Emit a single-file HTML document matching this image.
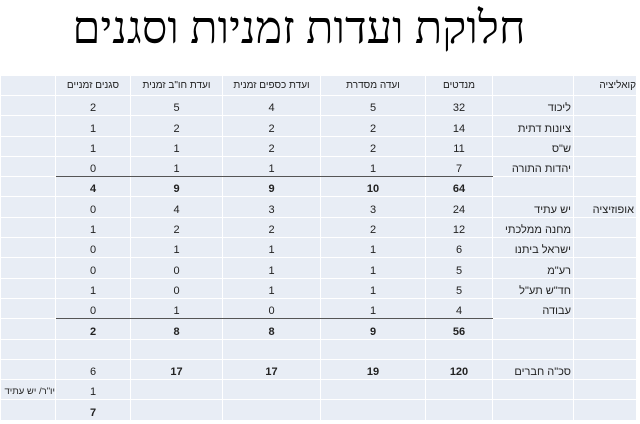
<!DOCTYPE html>
<html><head><meta charset="utf-8"><style>
body{margin:0;width:640px;height:424px;background:#fff;position:relative;overflow:hidden;font-family:"Liberation Sans",Arial,sans-serif}
h1{position:absolute;left:0;top:0;width:598px;margin:0;text-align:center;font-family:"Liberation Serif","Noto Serif CJK SC",serif;font-weight:normal;font-size:45px;line-height:56px;direction:rtl;color:#000}
table{position:absolute;left:0;top:75px;border-collapse:collapse;table-layout:fixed;width:636px;direction:ltr}
td{background:#e8edf5;border:1px solid #fff;height:18.3px;line-height:12px;padding:0 0 1px 0;font-size:11px;color:#222;text-align:center;vertical-align:bottom;direction:rtl;white-space:nowrap}
tr.h td{height:19px;vertical-align:middle;font-size:10px;padding:0}
td.r{text-align:right;padding-right:2px}
td.x{font-size:9.5px;padding-right:0}
tr.b td{font-weight:bold}
tr.u td.l{border-bottom:1.5px solid #555}
</style></head><body>
<h1>חלוקת ועדות זמניות וסגנים</h1>
<table>
<colgroup><col style="width:55px"><col style="width:75px"><col style="width:92px"><col style="width:98px"><col style="width:105px"><col style="width:67px"><col style="width:81px"><col style="width:63px"></colgroup>
<tr class="h"><td></td><td>סגנים זמניים</td><td>ועדת חו"ב זמנית</td><td>ועדת כספים זמנית</td><td>ועדה מסדרת</td><td>מנדטים</td><td></td><td class="r">קואליציה</td></tr>
<tr><td></td><td>2</td><td>5</td><td>4</td><td>5</td><td>32</td><td class="r">ליכוד</td><td></td></tr>
<tr><td></td><td>1</td><td>2</td><td>2</td><td>2</td><td>14</td><td class="r">ציונות דתית</td><td></td></tr>
<tr><td></td><td>1</td><td>1</td><td>2</td><td>2</td><td>11</td><td class="r">ש"ס</td><td></td></tr>
<tr class="u"><td></td><td class="l">0</td><td class="l">1</td><td class="l">1</td><td class="l">1</td><td class="l">7</td><td class="r">יהדות התורה</td><td></td></tr>
<tr class="b"><td></td><td>4</td><td>9</td><td>9</td><td>10</td><td>64</td><td></td><td></td></tr>
<tr><td></td><td>0</td><td>4</td><td>3</td><td>3</td><td>24</td><td class="r">יש עתיד</td><td class="r">אופוזיציה</td></tr>
<tr><td></td><td>1</td><td>2</td><td>2</td><td>2</td><td>12</td><td class="r">מחנה ממלכתי</td><td></td></tr>
<tr><td></td><td>0</td><td>1</td><td>1</td><td>1</td><td>6</td><td class="r">ישראל ביתנו</td><td></td></tr>
<tr><td></td><td>0</td><td>0</td><td>1</td><td>1</td><td>5</td><td class="r">רע"מ</td><td></td></tr>
<tr><td></td><td>1</td><td>0</td><td>1</td><td>1</td><td>5</td><td class="r">חד"ש תע"ל</td><td></td></tr>
<tr class="u"><td></td><td class="l">0</td><td class="l">1</td><td class="l">0</td><td class="l">1</td><td class="l">4</td><td class="r">עבודה</td><td></td></tr>
<tr class="b"><td></td><td>2</td><td>8</td><td>8</td><td>9</td><td>56</td><td></td><td></td></tr>
<tr><td></td><td></td><td></td><td></td><td></td><td></td><td></td><td></td></tr>
<tr><td></td><td>6</td><td><b>17</b></td><td><b>17</b></td><td><b>19</b></td><td><b>120</b></td><td class="r">סכ"ה חברים</td><td></td></tr>
<tr><td class="r x">יו"ר/ יש עתיד</td><td>1</td><td></td><td></td><td></td><td></td><td></td><td></td></tr>
<tr><td></td><td><b>7</b></td><td></td><td></td><td></td><td></td><td></td><td></td></tr>
</table>
</body></html>
